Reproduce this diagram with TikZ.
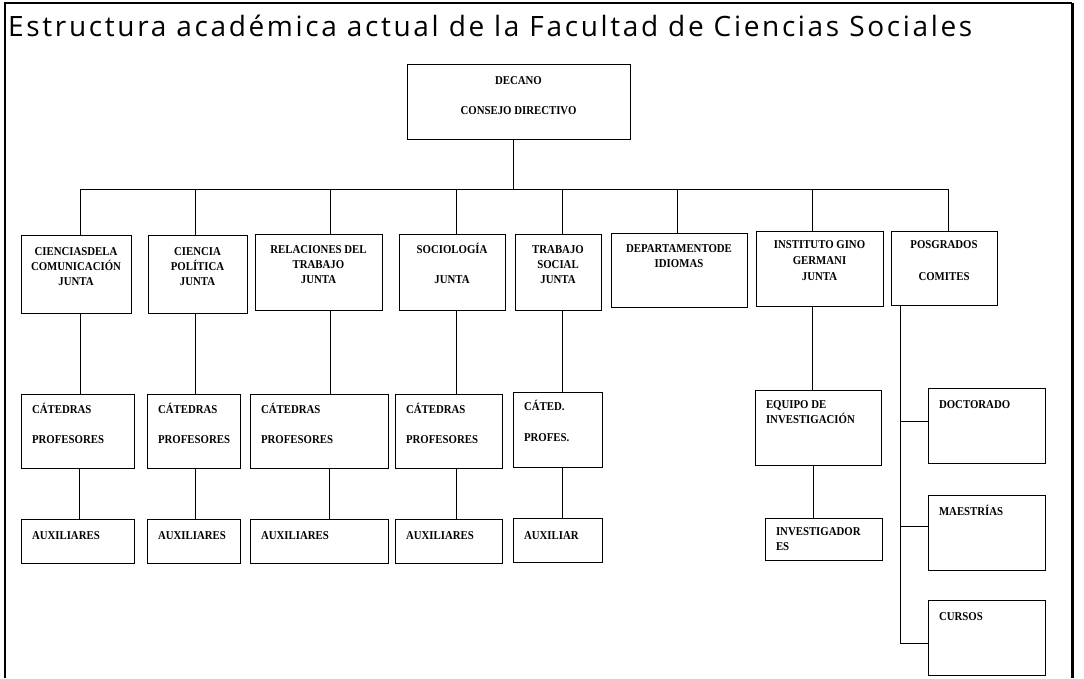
\documentclass[tikz,border=0pt]{standalone}
\usepackage{fontspec}
\setmainfont{Liberation Serif}
\newfontfamily\titlefont[LetterSpace=9.5]{Open Sans}
\newfontfamily\boxfont[FakeStretch=0.9]{Liberation Serif}
\usetikzlibrary{calc}
\newcommand{\cbx}[4]{\parbox[t][#2pt][t]{#1pt}{\centering\vspace*{#3pt}\rule{0pt}{10pt}#4}}
\newcommand{\lbx}[4]{\parbox[t][#2pt][t]{#1pt}{\raggedright\leftskip=11pt\vspace*{#3pt}\rule{0pt}{10pt}#4}}
\tikzset{
  orgbox/.style={draw, line width=0.9pt, inner sep=0pt, outer sep=0pt, anchor=north west,
    font=\boxfont\bfseries\fontsize{12}{15}\selectfont},
  link/.style={line width=0.9pt},
  frame/.style={line width=1.5pt},
}
\begin{document}
\begin{tikzpicture}[x=1pt,y=-1pt]
\useasboundingbox (0,0) rectangle (1084,678);
% frame
\draw[frame] (5,678) -- (5,3) -- (1072,3);
\draw[line width=3pt] (1072,3) -- (1072,678);
% title
\node[anchor=base west, inner sep=0pt, font=\titlefont\fontsize{28}{32}\selectfont] (title) at (8,36)
  {Estructura académica actual de la Facultad de Ciencias Sociales};
% top
\node[orgbox] (dec) at (407,64) {\cbx{223}{75}{10}{DECANO\\[15pt]CONSEJO DIRECTIVO}};
% level 1
\node[orgbox] (cc)  at (21,235)  {\cbx{110}{78}{10}{CIENCIASDELA\\COMUNICACIÓN\\JUNTA}};
\node[orgbox] (cp)  at (148,235) {\cbx{99}{78}{10}{CIENCIA\\POLÍTICA\\JUNTA}};
\node[orgbox] (rt)  at (255,234) {\cbx{127}{76}{9}{RELACIONES DEL\\TRABAJO\\JUNTA}};
\node[orgbox] (soc) at (399,234) {\cbx{106}{76}{9}{SOCIOLOGÍA\\[15pt]JUNTA}};
\node[orgbox] (ts)  at (515,234) {\cbx{86}{76}{9}{TRABAJO\\SOCIAL\\JUNTA}};
\node[orgbox] (di)  at (611,233) {\cbx{136}{74}{9}{DEPARTAMENTODE\\IDIOMAS}};
\node[orgbox] (igg) at (756,231) {\cbx{127}{75}{7}{INSTITUTO GINO\\[1pt]GERMANI\\[1pt]JUNTA}};
\node[orgbox] (pos) at (891,231) {\cbx{106}{74}{7}{POSGRADOS\\[17pt]COMITES}};
% level 2
\node[orgbox] (cat1) at (21,394)  {\lbx{113}{74}{9}{CÁTEDRAS\\[15pt]PROFESORES}};
\node[orgbox] (cat2) at (147,394) {\lbx{93}{74}{9}{CÁTEDRAS\\[15pt]PROFESORES}};
\node[orgbox] (cat3) at (250,394) {\lbx{138}{74}{9}{CÁTEDRAS\\[15pt]PROFESORES}};
\node[orgbox] (cat4) at (395,394) {\lbx{107}{74}{9}{CÁTEDRAS\\[15pt]PROFESORES}};
\node[orgbox] (cat5) at (513,392) {\lbx{89}{75}{8}{CÁTED.\\[16pt]PROFES.}};
\node[orgbox] (eq)   at (755,390) {\lbx{126}{75}{8}{EQUIPO DE\\INVESTIGACIÓN}};
% level 3
\node[orgbox] (aux1) at (21,519)  {\lbx{113}{44}{10}{AUXILIARES}};
\node[orgbox] (aux2) at (147,519) {\lbx{93}{44}{10}{AUXILIARES}};
\node[orgbox] (aux3) at (250,519) {\lbx{138}{44}{10}{AUXILIARES}};
\node[orgbox] (aux4) at (395,519) {\lbx{107}{44}{10}{AUXILIARES}};
\node[orgbox] (aux5) at (513,518) {\lbx{89}{44}{11}{AUXILIAR}};
\node[orgbox] (inv)  at (765,518) {\lbx{117}{42}{7}{INVESTIGADOR\\ES}};
% posgrados children
\node[orgbox] (doc) at (928,388) {\lbx{117}{75}{10}{DOCTORADO}};
\node[orgbox] (mae) at (928,495) {\lbx{117}{75}{10}{MAESTRÍAS}};
\node[orgbox] (cur) at (928,600) {\lbx{117}{75}{10}{CURSOS}};
% connectors
\coordinate (bus) at (0,189);
\coordinate (sdec) at ([xshift=-5.5pt]dec.south);
\coordinate (scc)  at ([xshift=4pt]cc.north);
\coordinate (scp)  at ([xshift=-2.5pt]cp.north);
\coordinate (srt)  at ([xshift=11.5pt]rt.north);
\coordinate (ssoc) at ([xshift=4pt]soc.north);
\coordinate (sts)  at ([xshift=4pt]ts.north);
\coordinate (sdi)  at ([xshift=-2pt]di.north);
\coordinate (sigg) at ([xshift=-7.5pt]igg.north);
\coordinate (spos) at ([xshift=4pt]pos.north);
\draw[link] (sdec) -- (sdec |- bus);
\draw[link] (scc |- bus) -- (spos |- bus);
\foreach \s in {scc,scp,srt,ssoc,sts,sdi,sigg,spos} {\draw[link] (\s |- bus) -- (\s);}
% level1 -> level2
\draw[link] (scc |- cc.south) -- (scc |- cat1.north);
\draw[link] (scp |- cp.south) -- (scp |- cat2.north);
\draw[link] (srt |- rt.south) -- (srt |- cat3.north);
\draw[link] (ssoc |- soc.south) -- (ssoc |- cat4.north);
\draw[link] (sts |- ts.south) -- (sts |- cat5.north);
\draw[link] (sigg |- igg.south) -- (sigg |- eq.north);
% level2 -> level3
\coordinate (s1) at ([xshift=1.5pt]cat1.south);
\coordinate (s2) at ([xshift=1.5pt]cat2.south);
\coordinate (s3) at ([xshift=10pt]cat3.south);
\coordinate (s4) at ([xshift=7.5pt]cat4.south);
\coordinate (s5) at ([xshift=4.5pt]cat5.south);
\coordinate (s6) at ([xshift=-5pt]eq.south);
\draw[link] (s1) -- (s1 |- aux1.north);
\draw[link] (s2) -- (s2 |- aux2.north);
\draw[link] (s3) -- (s3 |- aux3.north);
\draw[link] (s4) -- (s4 |- aux4.north);
\draw[link] (s5) -- (s5 |- aux5.north);
\draw[link] (s6) -- (s6 |- inv.north);
% posgrados spine
\coordinate (spine) at ([xshift=-44pt]pos.south);
\coordinate (bdoc) at ([yshift=4.5pt]doc.west);
\coordinate (bmae) at ([yshift=6.5pt]mae.west);
\coordinate (bcur) at ([yshift=-5.5pt]cur.west);
\draw[link] (spine) -- (spine |- bcur) -- (bcur);
\draw[link] (spine |- bdoc) -- (bdoc);
\draw[link] (spine |- bmae) -- (bmae);
\end{tikzpicture}
\end{document}
